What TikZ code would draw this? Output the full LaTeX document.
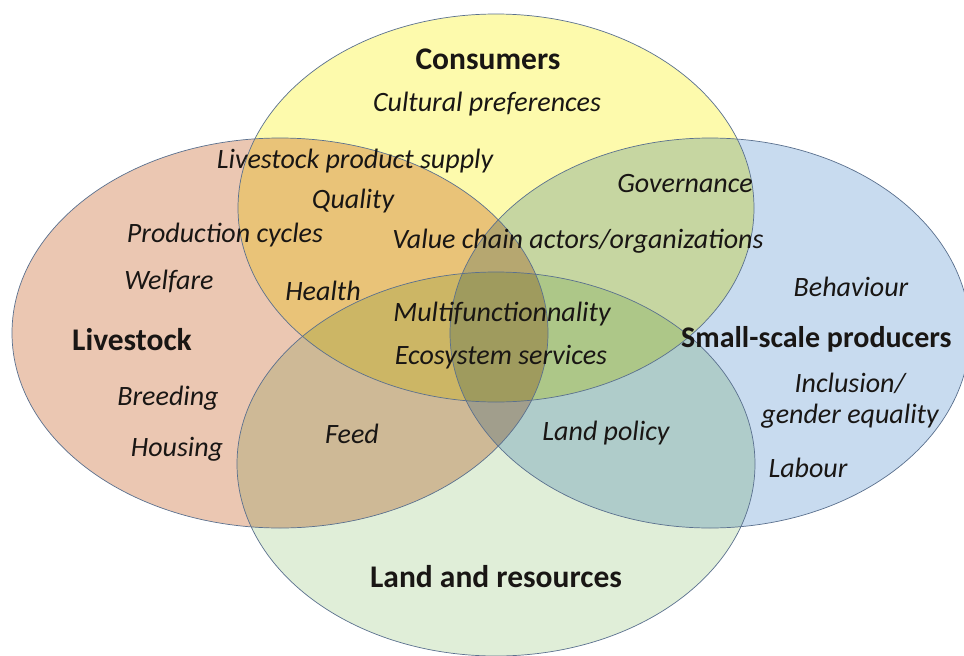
\documentclass[tikz,border=0pt]{standalone}
\usepackage{fontspec}
\setmainfont{Carlito}
\definecolor{cYel}{RGB}{253,250,172}
\definecolor{cLiv}{RGB}{235,199,178}
\definecolor{cBlu}{RGB}{200,219,239}
\definecolor{cGrn}{RGB}{224,238,216}
\definecolor{cEdge}{RGB}{90,112,142}
\definecolor{cTxt}{RGB}{25,22,20}
\tikzset{
  head/.style={font=\fontsize{31.5}{35}\selectfont\bfseries, text=cTxt, inner sep=0pt},
  item/.style={font=\fontsize{28}{32}\selectfont\itshape, text=cTxt, inner sep=0pt},
  rim/.style={draw=cEdge, line width=0.7pt},
}
\begin{document}
\begin{tikzpicture}[x=1pt,y=-1pt]
\useasboundingbox (0,0) rectangle (964,656);
\fill[white] (0,0) rectangle (964,656);
\begin{scope}[blend mode=multiply]
  \fill[cLiv] (280,333) ellipse [x radius=268, y radius=195];
  \fill[cYel] (496,208) ellipse [x radius=258, y radius=194];
  \fill[cBlu] (710,333) ellipse [x radius=260, y radius=195];
  \fill[cGrn] (496,464) ellipse [x radius=259, y radius=192];
\end{scope}
\draw[rim] (280,333) ellipse [x radius=268, y radius=195];
\draw[rim] (496,208) ellipse [x radius=258, y radius=194];
\draw[rim] (710,333) ellipse [x radius=260, y radius=195];
\draw[rim] (496,464) ellipse [x radius=259, y radius=192];

\node[head] (consumers) at (488,59) {Consumers};
\node[head] (livestock) at (132,340) {Livestock};
\node[head, font=\fontsize{30}{34}\selectfont\bfseries, anchor=west] (producers) at (681,339) {Small-scale producers};
\node[head] (land) at (496,577) {Land and resources};

\node[item] (cultural) at (487,104) {Cultural preferences};
\node[item] (supply) at (355,161) {Livestock product supply};
\node[item] (quality) at (353,201) {Quality};
\node[item] (cycles) at (225,235) {Production cycles};
\node[item] (welfare) at (169,281) {Welfare};
\node[item] (health) at (323,291) {Health};
\node[item] (value) at (578,241) {Value chain actors/organizations};
\node[item] (governance) at (685,184) {Governance};
\node[item] (behaviour) at (851,287) {Behaviour};
\node[item] (multi) at (502,314) {Multifunctionnality};
\node[item] (ecosys) at (501,357) {Ecosystem services};
\node[item] (breeding) at (168,398) {Breeding};
\node[item] (housing) at (177,449) {Housing};
\node[item] (feed) at (352,434) {Feed};
\node[item] (landpol) at (606,433) {Land policy};
\node[item] (inclusion) at (850,383) {Inclusion/};
\node[item] (gender) at (850,416) {gender equality};
\node[item] (labour) at (808,468) {Labour};
\end{tikzpicture}
\end{document}
